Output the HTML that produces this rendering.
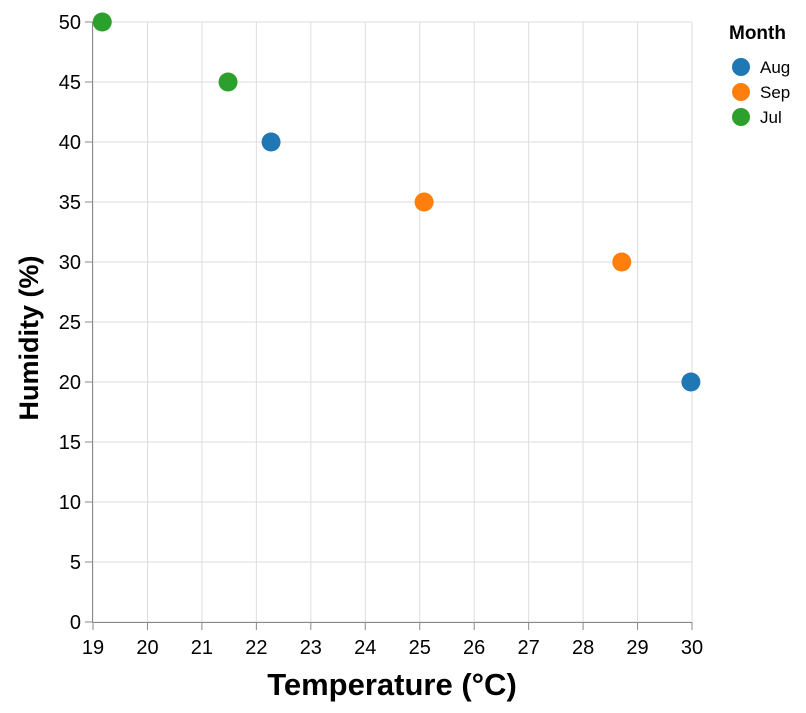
<!DOCTYPE html>
<html><head><meta charset="utf-8"><style>
body{margin:0;background:#fff;}
svg text{font-family:"Liberation Sans",Arial,sans-serif;}
</style></head><body>
<svg id="chart" width="806" height="708" xmlns="http://www.w3.org/2000/svg">
<g id="grid"></g>
<g id="axes"></g>
<g id="points"></g>
<text x="392" y="695" text-anchor="middle" font-size="31" font-weight="bold">Temperature (°C)</text>
<text transform="translate(38,338) rotate(-90)" text-anchor="middle" font-size="27" font-weight="bold">Humidity (%)</text>
<g id="legend">
<text x="729" y="39" font-size="19" font-weight="bold">Month</text>
</g>
</svg>
<script>
const temps=[19.17,21.48,22.27,25.08,28.71,29.98];
const humid=[50,45,40,35,30,20];
const months=["Jul","Jul","Aug","Sep","Sep","Aug"];
const legendMonths=["Aug","Sep","Jul"];
const colors={Aug:"#1f77b4",Sep:"#ff7f0e",Jul:"#2ca02c"};
const xTicks=[19,20,21,22,23,24,25,26,27,28,29,30];
const yTicks=[0,5,10,15,20,25,30,35,40,45,50];
const NS="http://www.w3.org/2000/svg";
const x0=93,x1=692,y0=622,y1=22;
const xs=v=>x0+(v-19)/(30-19)*(x1-x0);
const ys=v=>y0-(v/50)*(y0-y1);
function mk(tag,attrs,parent){const e=document.createElementNS(NS,tag);for(const k in attrs)e.setAttribute(k,attrs[k]);parent.appendChild(e);return e;}
const grid=document.getElementById('grid'),axes=document.getElementById('axes'),pts=document.getElementById('points'),leg=document.getElementById('legend');
xTicks.forEach(t=>{
 const l=mk('line',{x1:xs(t),x2:xs(t),y1:y1,y2:y0,stroke:'#ddd','stroke-width':1},grid);
 
 
 const tk=mk('line',{x1:xs(t),x2:xs(t),y1:y0,y2:y0+8,stroke:'#888','stroke-width':1},axes);
 
 
 const tx=mk('text',{x:xs(t),y:654,'text-anchor':'middle','font-size':20,fill:'#000'},axes);
 tx.textContent=t;
 
 
});
yTicks.forEach(t=>{
 const l=mk('line',{x1:x0,x2:x1,y1:ys(t),y2:ys(t),stroke:'#ddd','stroke-width':1},grid);
 
 
 const tk=mk('line',{x1:x0-8,x2:x0,y1:ys(t),y2:ys(t),stroke:'#888','stroke-width':1},axes);
 
 
 const tx=mk('text',{x:81,y:ys(t)+7,'text-anchor':'end','font-size':20,fill:'#000'},axes);
 tx.textContent=t;
 
 
});
const ax=mk('line',{x1:x0,x2:x1,y1:y0+0.5,y2:y0+0.5,stroke:'#888'},axes);


const ay=mk('line',{x1:x0-0.5,x2:x0-0.5,y1:y1,y2:y0,stroke:'#888'},axes);


temps.forEach((t,i)=>{
 const c=mk('circle',{cx:xs(t),cy:ys(humid[i]),r:9.5,fill:colors[months[i]]},pts);
 
 
});
legendMonths.forEach((m,i)=>{
 const y=67+i*25;
 const c=mk('circle',{cx:741,cy:y,r:9,fill:colors[m]},leg);
 
 
 const t=mk('text',{x:760,y:y+6,'font-size':17},leg);
 t.textContent=m;
 
 
});
</script>
</body></html>
